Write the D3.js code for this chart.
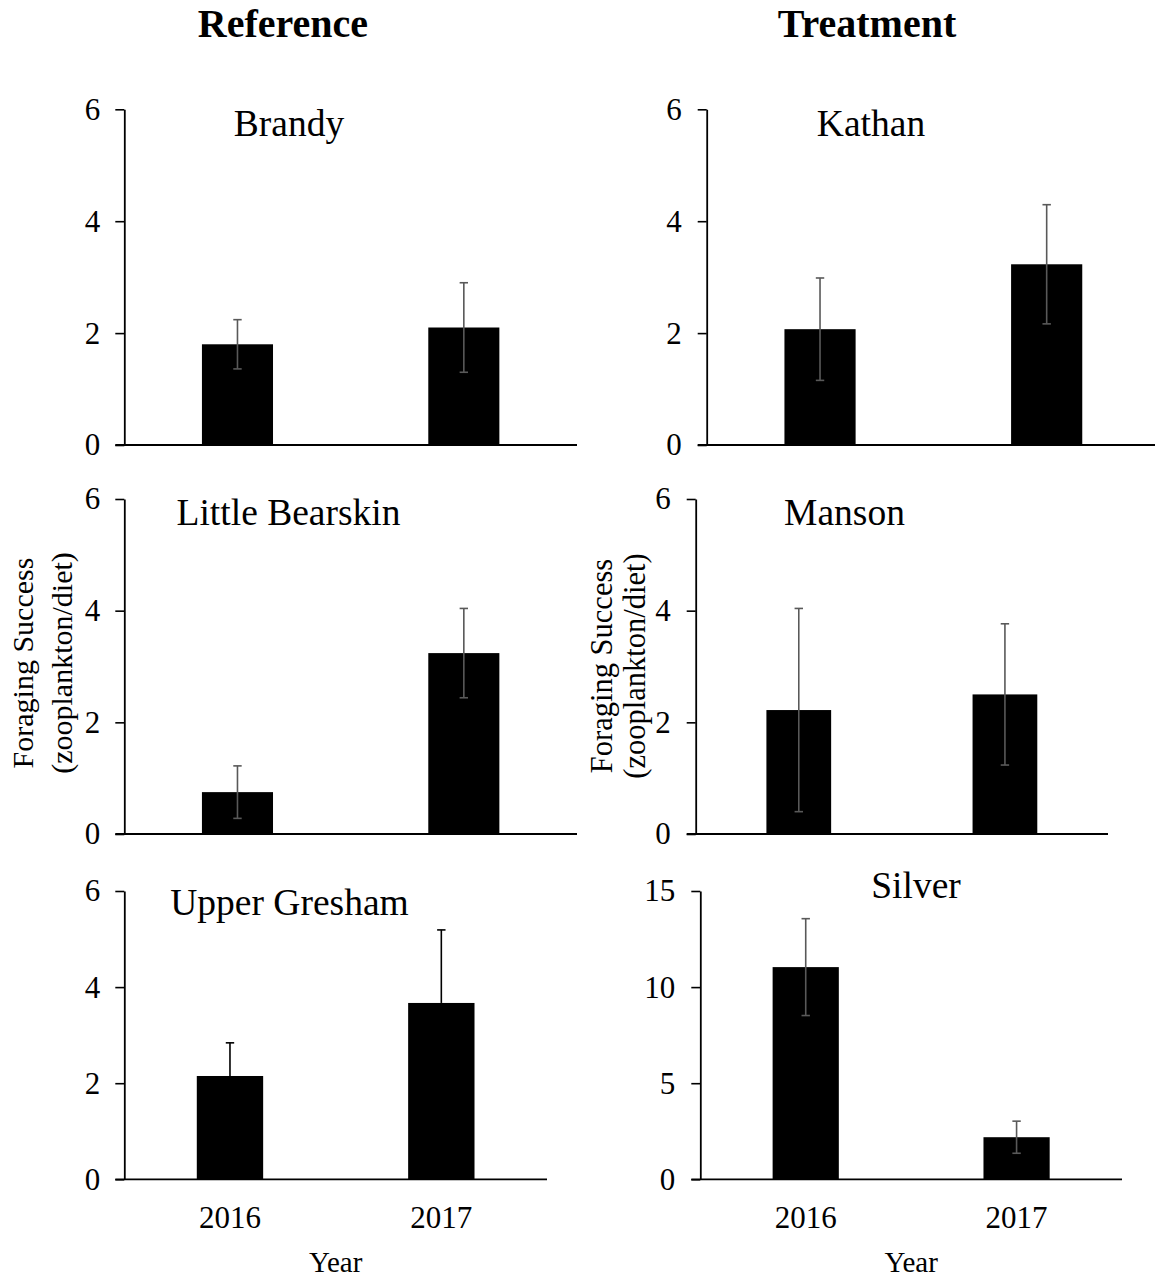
<!DOCTYPE html>
<html>
<head>
<meta charset="utf-8">
<script src="https://cdn.jsdelivr.net/npm/d3@7"></script>
<style>
  html, body { margin: 0; padding: 0; background: #fff; }
  svg { display: block; }
  text { font-family: "Liberation Serif", "Times New Roman", serif; fill: #000; }
</style>
</head>
<body>
<div id="chart"></div>
<script>
// ---------------- DATA ----------------
const years = ["2016", "2017"];
const lakes = ["Brandy", "Little Bearskin", "Upper Gresham", "Kathan", "Manson", "Silver"];
const groups = ["Reference", "Treatment"];
const mean2016 = [1.80, 0.75, 2.15, 2.07, 2.22, 11.04];
const mean2017 = [2.10, 3.24, 3.67, 3.23, 2.50, 2.19];
const se2016   = [0.44, 0.47, 0.69, 0.915, 1.82, 2.52];
const se2017   = [0.80, 0.80, 1.52, 1.065, 1.265, 0.835];
const yTicksSmall = [0, 2, 4, 6];
const yTicksSilver = [0, 5, 10, 15];
const yAxisTitle = ["Foraging Success", "(zooplankton/diet)"];
const xAxisTitle = "Year";

// ---------------- LAYOUT ----------------
const W = 1155, H = 1278;
const svg = d3.select("#chart").append("svg").attr("width", W).attr("height", H);

const panels = [
  { lake: 0, x0: 124.3, x1: 577,   yb: 445,    yt: 109.3, ticks: yTicksSmall,  tx: 289,   ty: 136,   bottom: false, errColor: "#595959", both: true },
  { lake: 1, x0: 124.3, x1: 577,   yb: 834,    yt: 499,   ticks: yTicksSmall,  tx: 288.5, ty: 524.5, bottom: false, errColor: "#595959", both: true },
  { lake: 2, x0: 124.3, x1: 547,   yb: 1179.3, yt: 891,   ticks: yTicksSmall,  tx: 289.5, ty: 914.5, bottom: true,  errColor: "#000000", both: false },
  { lake: 3, x0: 706.7, x1: 1160,  yb: 445,    yt: 109.3, ticks: yTicksSmall,  tx: 871,   ty: 136,   bottom: false, errColor: "#595959", both: true },
  { lake: 4, x0: 695.7, x1: 1108,  yb: 834,    yt: 499,   ticks: yTicksSmall,  tx: 844.5, ty: 524.5, bottom: false, errColor: "#595959", both: true },
  { lake: 5, x0: 700.3, x1: 1122,  yb: 1179.3, yt: 891,   ticks: yTicksSilver, tx: 916,   ty: 898,   bottom: true,  errColor: "#595959", both: true }
];

const tickFont = 31, titleFont = 37.5;

panels.forEach(p => {
  const i = p.lake;
  const vals = [
    { year: years[0], m: mean2016[i], se: se2016[i] },
    { year: years[1], m: mean2017[i], se: se2017[i] }
  ];
  const x = d3.scaleBand().domain(years).range([p.x0, p.x1]).paddingInner(0.686).paddingOuter(0.343);
  const y = d3.scaleLinear().domain([0, d3.max(p.ticks)]).range([p.yb, p.yt]);
  const g = svg.append("g");

  // bars
  g.selectAll("rect.bar").data(vals).join("rect")
    .attr("class", "bar")
    .attr("x", d => x(d.year))
    .attr("width", x.bandwidth())
    .attr("y", d => y(d.m))
    .attr("height", d => y(0) - y(d.m))
    .attr("fill", "#000");

  // error bars
  const cap = 4.2;
  vals.forEach(d => {
    const cx = x(d.year) + x.bandwidth() / 2;
    const top = y(d.m + d.se);
    const bot = p.both ? y(d.m - d.se) : y(d.m);
    g.append("line").attr("x1", cx).attr("x2", cx).attr("y1", top).attr("y2", bot)
      .attr("stroke", p.errColor).attr("stroke-width", 1.6);
    g.append("line").attr("x1", cx - cap).attr("x2", cx + cap).attr("y1", top).attr("y2", top)
      .attr("stroke", p.errColor).attr("stroke-width", 1.6);
    if (p.both) {
      g.append("line").attr("x1", cx - cap).attr("x2", cx + cap).attr("y1", bot).attr("y2", bot)
        .attr("stroke", p.errColor).attr("stroke-width", 1.6);
    }
  });

  // y axis
  const ya = g.append("g").attr("transform", `translate(${p.x0},0)`)
    .call(d3.axisLeft(y).tickValues(p.ticks).tickFormat(d3.format("d"))
      .tickSize(9).tickSizeOuter(0).tickPadding(p.x0 > 600 ? 16 : 15));
  ya.selectAll("path.domain").attr("stroke", "#000").attr("stroke-width", 1.8);
  ya.selectAll(".tick line").attr("stroke", "#000").attr("stroke-width", 1.6);
  ya.selectAll(".tick text").style("font-family", "Liberation Serif").style("font-size", tickFont + "px").attr("fill", "#000");

  // x axis
  const xa = g.append("g").attr("transform", `translate(0,${p.yb})`)
    .call(d3.axisBottom(x).tickSize(0).tickSizeOuter(0).tickPadding(27)
      .tickFormat(p.bottom ? (d => d) : () => ""));
  xa.select("path.domain").attr("d", `M${p.x0 - 9},0H${p.x1}`).attr("stroke", "#000").attr("stroke-width", 1.8);
  xa.selectAll(".tick text").style("font-family", "Liberation Serif").style("font-size", tickFont + "px").attr("fill", "#000");

  // panel title
  g.append("text").attr("x", p.tx).attr("y", p.ty).attr("text-anchor", "middle")
    .style("font-size", titleFont + "px").text(lakes[i]);

  // x axis title
  if (p.bottom) {
    g.append("text").attr("x", (p.x0 + p.x1) / 2).attr("y", 1271.5).attr("text-anchor", "middle")
      .style("font-size", "29px").text(xAxisTitle);
  }
});

// column headers
[[283, groups[0]], [867, groups[1]]].forEach(([cx, t]) => {
  svg.append("text").attr("x", cx).attr("y", 37).attr("text-anchor", "middle")
    .style("font-size", "40px").style("font-weight", "bold").text(t);
});

// y axis titles (rotated, two lines)
[{ cy: 663, b1: 33, b2: 72, fs: 30 }, { cy: 666, b1: 612, b2: 645, fs: 30.5 }].forEach(o => {
  yAxisTitle.forEach((t, k) => {
    const bx = k === 0 ? o.b1 : o.b2;
    svg.append("text").attr("transform", `translate(${bx},${o.cy}) rotate(-90)`)
      .attr("text-anchor", "middle").style("font-size", o.fs + "px").text(t);
  });
});
</script>
</body>
</html>
